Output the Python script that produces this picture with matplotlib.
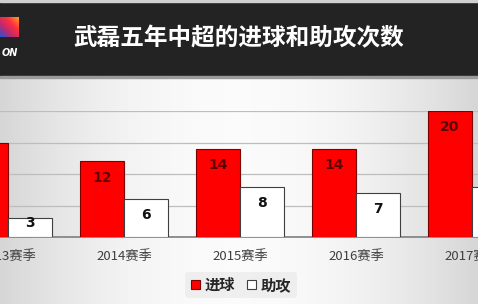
import numpy as np
import matplotlib
matplotlib.use('Agg')
import matplotlib.pyplot as plt
from matplotlib.colors import LinearSegmentedColormap
from matplotlib.patches import Rectangle

plt.rcParams['font.family'] = ['Noto Sans CJK SC', 'DejaVu Sans']

# 数据
seasons = ['2013赛季', '2014赛季', '2015赛季', '2016赛季', '2017赛季']
goals = [15, 12, 14, 14, 20]
assists = [3, 6, 8, 7, 8]
title = '武磊五年中超的进球和助攻次数'

W, H = 478, 304
fig = plt.figure(figsize=(W / 100, H / 100), dpi=100)

# 背景渐变
bg = fig.add_axes([0, 0, 1, 1], zorder=-5)
bg.axis('off')
xx = np.linspace(-1, 1, 300)
grad = 1 - 0.35 * xx ** 2
grad = np.tile(grad, (50, 1))
cmap_bg = LinearSegmentedColormap.from_list('bg', ['#d6d6d6', '#fbfbfb'])
bg.imshow(grad, cmap=cmap_bg, aspect='auto', extent=[0, 1, 0, 1], vmin=0.65, vmax=1)
bg.set_xlim(0, 1)
bg.set_ylim(0, 1)

# 标题栏
def fy(p):
    return 1 - p / H

fig.patches.append(Rectangle((0, fy(76)), 1, fy(2) - fy(76), transform=fig.transFigure,
                             color='#232323', zorder=1))
fig.patches.append(Rectangle((0, fy(2)), 1, 1 - fy(2), transform=fig.transFigure,
                             color='#d0d0d0', zorder=1))
fig.patches.append(Rectangle((0, fy(78)), 1, fy(76) - fy(78), transform=fig.transFigure,
                             color='#9a9a9a', zorder=1))
fig.text(239 / W, fy(38), title, color='white', fontsize=17, fontweight='bold',
         ha='center', va='center', zorder=3)

# logo
logo = fig.add_axes([0, fy(37), 19 / W, 20 / H], zorder=4)
logo.axis('off')
gx, gy = np.meshgrid(np.linspace(0, 1, 20), np.linspace(0, 1, 20))
cmap_logo = LinearSegmentedColormap.from_list('logo', ['#3050d0', '#c02870', '#ff3040', '#ff9a20'])
logo.imshow(gx * 0.5 + gy * 0.5, cmap=cmap_logo, origin='lower', aspect='auto')
fig.text(18 / W, fy(53), 'ON', color='white', fontsize=7, fontweight='bold',
         style='italic', ha='right', va='center', family='DejaVu Sans', zorder=4)

# 主图
x0, step = 8, 116
ax = fig.add_axes([0, fy(237), 1, (237 - 111) / H])
ax.set_facecolor('none')
ax.set_xlim(-x0 / step, (W - x0) / step)
ax.set_ylim(0, 20)
x = np.arange(len(seasons))
bw = 44 / step
b1 = ax.bar(x - bw / 2, goals, width=bw, color='#ff0000', edgecolor='#7a0000', linewidth=0.8, zorder=3)
b2 = ax.bar(x + bw / 2, assists, width=bw, color='white', edgecolor='#404040', linewidth=0.8, zorder=3)

for xi, v in zip(x - bw / 2, goals):
    ax.text(xi, max(v - 2.56, 2.24), str(v), ha='center', va='center', fontsize=10,
            fontweight='bold', color='#5a0000', zorder=4, family='DejaVu Sans')
for xi, v in zip(x + bw / 2, assists):
    ax.text(xi, max(v - 2.56, 2.24), str(v), ha='center', va='center', fontsize=10,
            fontweight='bold', color='#111111', zorder=4, family='DejaVu Sans')

ax.set_yticks([0, 5, 10, 15, 20])
ax.yaxis.grid(True, color='#bdbdbd', linewidth=0.9, zorder=0)
ax.tick_params(left=False, labelleft=False, bottom=False)
for s in ['top', 'left', 'right']:
    ax.spines[s].set_visible(False)
ax.spines['bottom'].set_color('#7f7f7f')
ax.spines['bottom'].set_linewidth(1.2)
ax.set_xticks(x)
ax.set_xticklabels(seasons, fontsize=9.5, color='#404040')
ax.tick_params(axis='x', pad=6)

leg = fig.legend([b1, b2], ['进球', '助攻'], loc='center', bbox_to_anchor=(241 / W, fy(285)),
                 ncol=2, frameon=True, fontsize=11, handlelength=0.6, handleheight=0.6,
                 handletextpad=0.3, columnspacing=0.8, borderpad=0.35)
leg.get_frame().set_facecolor('#ececec')
leg.get_frame().set_edgecolor('none')
for t in leg.get_texts():
    t.set_fontweight('bold')
    t.set_color('#262626')

fig.savefig('out.png', dpi=100)
